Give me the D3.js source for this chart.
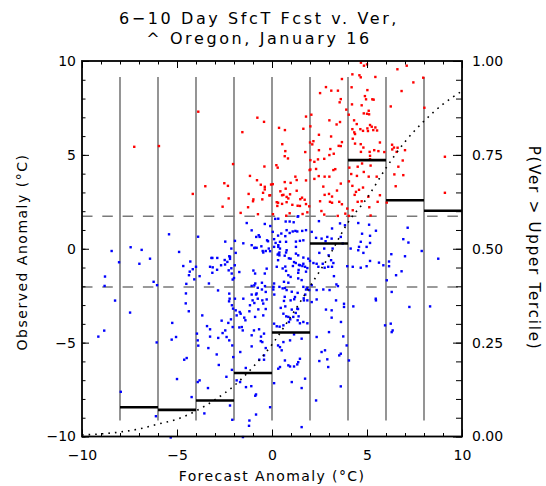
<!DOCTYPE html>
<html><head><meta charset="utf-8">
<script src="https://cdn.jsdelivr.net/npm/d3@7"></script>
<style>body{margin:0;background:#fff}svg{display:block;font-family:"DejaVu Sans",sans-serif}</style>
</head><body><svg id="c" width="546" height="486"></svg>
<script>
// [forecast anomaly, observed anomaly]
const points = [
[-7.25,5.43],[-8.44,-0.12],[-7.44,0.08],[-8.05,-0.72],[-8.79,-1.48],[-8.26,-2.76],[-7.47,-3.4],[-8.83,-4.36],[-9.14,-4.68],[-7.96,-7.62],[-6.98,-0.8],
[-6.86,-0.06],[-6.42,-0.53],[-5.42,0.77],[-4.89,-0.17],[-3.89,0.64],[-3.19,-0.49],[-3.14,-0.49],[-2.88,-0.49],[-2.46,0.38],[-2.49,-0.6],[-2.21,-0.43],[-2.14,0.01],[-1.95,0.42],[-1.51,0.29],[-1.33,1.37],[-1.07,0.98],[-0.9,0.05],[-0.81,0.05],[-0.7,0.72],[-0.65,0.63],[-0.83,0.63],[-0.56,0.13],[-0.49,-0.12],[-0.46,-0.2],[-0.33,-0.12],[-0.38,1.32],[-0.26,0.45],[-0.21,0.4],[-0.09,1.21],[0.04,0.9],[0.11,0.51],[0.17,1.59],[0.33,0.1],[0.3,-0.31],[0.39,-0.2],
[-5.95,5.47],[-3.88,7.3],[-4.17,2.92],[-3.51,3.33],[-2.51,3.49],[-2.32,3.35],[-2.05,4.51],[-2.28,2.68],[-2.6,2.24],[-1.56,6.21],[-0.77,6.98],[-0.42,6.76],[0.37,6.44],[-1.16,3.88],[-0.79,3.65],[-0.4,4.38],[-0.59,3.41],[-0.38,3.3],[-0.38,3.16],[-0.05,3.42],[-0.47,2.98],[-0.14,2.84],[-1.23,2.92],[-1.0,2.53],[-1.26,2.21],[-1.65,1.91],[-0.74,1.84],[0.23,4.45],[0.3,4.32],[0.32,2.45],[0.05,1.84],[-0.98,2.63],[-0.51,2.63],
[4.68,9.91],[4.84,9.75],[5.0,9.82],[4.23,9.29],[4.6,9.24],[4.67,9.13],[5.44,9.15],[6.6,9.56],[7.09,9.75],[7.96,9.11],[7.44,8.86],[6.82,8.4],[3.68,9.04],[2.84,8.61],[3.12,8.42],[3.47,8.42],[2.53,8.29],[3.62,7.97],[3.56,7.8],[4.19,8.6],[5.02,8.45],[4.89,8.13],[4.95,7.96],[5.28,7.96],[5.35,7.94],[4.72,7.64],[4.21,7.69],[3.91,7.41],[5.09,7.35],[5.0,7.19],[4.83,7.21],[5.11,7.16],[4.04,7.14],[6.25,7.58],[8.02,7.51],[2.07,7.14],[2.02,6.52],[1.79,7.04],[1.65,6.39],[0.68,6.32],
[3.02,6.84],[3.58,6.75],[3.4,6.62],[4.32,6.84],[4.46,6.64],[4.23,6.37],[4.33,6.2],[4.65,6.37],[4.79,6.28],[5.02,6.41],[5.05,6.27],[5.25,6.5],[5.33,6.32],[5.44,6.46],[5.53,6.3],[5.16,6.59],[4.37,6.11],[4.25,5.86],[3.11,5.98],[2.47,6.07],[2.18,5.73],[2.0,5.66],[2.12,5.56],[3.68,5.68],[3.62,5.47],[3.51,5.48],[0.54,5.57],[0.7,5.2],[0.67,4.93],[0.84,4.81],[2.47,5.25],[3.07,5.31],[3.25,5.06],[3.02,4.99],[2.75,4.79],[2.42,4.76],[2.23,4.63],[1.75,5.15],[2.02,4.72],[2.02,4.22],
[4.67,5.57],[4.37,5.6],[4.81,5.39],[4.68,5.16],[5.14,5.16],[5.16,4.77],[5.16,4.95],[5.68,5.66],[5.6,5.2],[5.38,5.25],[5.91,5.15],[6.32,5.54],[6.42,5.39],[6.61,5.38],[6.56,5.16],[6.33,5.29],[7.0,5.25],[6.88,4.7],[6.65,4.37],[6.91,3.92],[6.44,3.96],[6.51,3.33],[9.1,4.9],[9.1,2.98],[6.04,2.46],
[1.3,3.66],[1.23,3.84],[0.67,3.55],[0.72,3.2],[0.44,3.06],[0.53,2.85],[0.6,2.87],[0.86,2.68],[0.25,2.48],[0.28,2.28],[0.53,2.39],[0.77,2.48],[1.07,2.34],[1.58,2.72],[1.49,2.64],[1.72,2.61],[1.47,2.28],[1.96,2.26],[0.93,1.89],[1.35,1.71],[1.61,1.85],[1.79,3.64],[2.23,3.72],[2.32,4.25],[1.98,4.19],[2.46,3.87],[2.77,3.84],[3.02,3.84],[2.7,3.31],[2.77,2.87],[3.0,2.92],[2.53,2.53],[2.6,2.01],[2.75,1.82],[3.23,4.19],[3.33,4.24],[3.16,2.78],[3.42,3.1],[3.62,3.47],[3.54,2.5],[3.68,2.37],[3.05,2.5],[3.16,2.45],[3.46,1.75],[3.86,1.87],[3.96,2.14],[4.23,3.35],[4.35,2.87],[4.42,3.03],[4.58,3.14],[4.79,3.26],[5.07,2.77],[4.51,2.5],[4.72,2.53],[5.56,2.5],[5.68,2.85],[4.05,3.59],[4.17,3.98],[4.47,3.88],[5.09,3.84],[5.51,3.84],[4.83,4.09],[4.51,4.37],[4.07,4.32],[4.74,4.54],[5.19,4.43],[4.25,2.05],[4.04,1.75],[5.19,1.77],[5.12,2.21],[0.04,3.44],[-0.1,2.85],
[0.98,3.51],[1.3,3.09],[0.95,2.9],[0.77,2.76],[0.75,1.76],[1.38,1.73],[1.86,1.94],[1.79,2.38],[1.35,2.29],
[0.72,1.45],[0.93,1.45],[1.14,1.41],[1.23,0.95],[0.77,0.99],[0.49,0.81],[0.32,0.7],[0.7,0.67],[0.93,0.84],[1.09,0.92],[1.33,0.92],[1.59,0.95],[1.79,0.99],[0.42,0.37],[0.19,0.31],[0.74,0.37],[1.26,0.38],[1.47,0.42],[1.65,0.45],[0.42,0.01],[1.26,-0.26],[0.67,-0.37],[0.35,-0.26],[1.65,-0.47],
[2.09,0.9],[2.32,0.58],[2.61,0.54],[2.82,0.4],[2.91,0.63],[3.14,0.54],[3.62,0.63],[2.47,1.47],[3.16,1.08],[3.58,1.35],[3.84,1.25],[2.75,0.01],[2.49,-0.22],[3.19,0.01],[3.72,0.28],[2.98,-0.35],
[4.54,1.37],[4.74,0.8],[5.16,0.69],[5.47,0.96],[5.11,1.28],[4.67,0.37],[4.54,-0.08],[4.81,-0.22],[5.16,0.31],[4.14,0.01],
[6.28,-0.29],[7.14,1.12],[6.91,0.51],[7.18,0.33],[7.88,-0.12],[8.75,-0.53],
[0.33,1.6],[-0.17,0.01],[-0.1,-0.13],[-0.93,0.04],
[-8.81,-1.98],[-6.23,-1.76],[-6.05,-1.94],[-6.07,-4.99],[-6.11,-8.92],[-5.25,-3.95],[-5.28,-4.84],[-5.05,-4.7],[-5.0,-6.94],[-5.33,-10.05],
[-4.67,-0.92],[-4.3,-0.68],[-4.17,-1.09],[-4.37,-1.41],[-4.33,-1.22],[-4.09,-1.63],[-4.0,-0.96],[-3.81,-1.46],[-4.51,-1.87],[-4.53,-2.38],[-4.54,-2.91],[-4.38,-3.33],[-4.62,-5.91],[-4.49,-5.82],[-4.23,-7.9],[-3.91,-7.1],[-3.81,-7.01],[-3.56,-8.77],[-3.67,-3.55],[-3.42,-4.12],[-3.26,-4.29],[-3.95,-4.52],[-3.91,-4.88],[-3.88,-5.16],[-3.26,-4.68],[-2.83,-4.75],[-3.35,-5.29],[-3.37,-7.42],[-2.91,-5.63],[-2.8,-6.19],[-2.4,-6.82],
[-3.26,-0.96],[-3.12,-0.99],[-2.89,-1.12],[-3.14,-1.28],[-3.32,-1.85],[-2.84,-2.22],
[-2.25,-0.4],[-2.21,-0.54],[-1.91,-0.22],
[-2.68,-0.88],[-2.47,-0.84],[-2.35,-0.7],[-2.14,-1.04],[-2.28,-1.15],[-2.12,-1.32],[-2.0,-1.56],
[-2.25,-2.39],[-2.23,-2.66],[-2.26,-2.8],[-2.11,-3.01],[-2.05,-3.19],[-1.91,-3.28],[-1.95,-2.66],[-1.51,-2.66],[-1.7,-3.37],[-1.86,-3.55],[-1.4,-3.81],[-1.46,-3.67],[-1.59,-4.17],
[-2.65,-3.83],[-2.3,-3.95],[-2.46,-4.35],[-2.6,-4.49],[-2.39,-4.7],[-2.25,-4.88],[-2.09,-5.15],[-2.16,-3.76],
[-2.04,-5.77],[-2.11,-6.45],[-2.09,-9.11],[-2.21,-8.35],
[-1.07,0.19],
[-0.98,-1.16],[-0.89,-1.32],[-0.38,-1.32],[-1.07,-1.98],[-0.88,-1.85],[-0.53,-1.81],[-0.37,-1.99],[-0.75,-2.08],[-0.53,-2.17],[-0.81,-2.38],[-0.28,-2.7],[-0.51,-2.75],[-0.75,-2.66],[-1.02,-2.75],[-0.46,-2.92],[-0.72,-3.23],[-0.33,-3.21],[-1.19,-3.33],[-0.89,-3.63],[-0.95,-4.35],[-0.68,-4.29],[-1.07,-4.61],[-0.58,-4.68],[-0.59,-4.92],[-0.51,-4.97],[-0.42,-5.68],[-0.67,-5.91],[-0.42,-5.91],[-1.07,-5.2],[-1.67,-5.5],[-1.38,-6.35],[-1.09,-7.32],[-1.37,-7.37],[-1.68,-7.1],[-1.86,-7.01],[-0.84,-7.76],[-0.88,-7.83],[-0.1,-8.44],[-0.84,-8.83],[-1.19,-9.15],[-1.21,-9.43],[-0.33,-5.29],[-1.53,-10.03],
[-1.96,-0.88],[-2.07,-1.64],[-1.72,-1.24],[-0.28,-1.06],[0.07,-2.17],[0.12,-2.44],[-0.33,-2.3],[-0.93,-1.95],[-0.84,-2.44],[-1.07,-2.44],[-1.16,-3.01],[-0.93,-2.89],[-0.46,-3.55],[-1.65,-3.46],[-2.07,-4.17],[-1.72,-4.19],[-1.54,-4.35],[-0.42,-4.52],
[0.11,0.1],[0.33,0.19],[0.39,-0.35],[0.77,-0.08],[1.26,0.1],[0.98,-0.53],[1.16,-0.71],[1.38,-0.35],[1.65,-0.8],[1.91,-0.53],
[0.25,-0.96],[0.56,-1.05],[0.74,-1.18],[0.86,-1.41],[0.98,-1.5],[1.38,-1.28],[1.47,-0.88],[1.74,-0.96],[1.38,-1.58],[1.56,-1.67],[2.0,-0.65],[2.18,-0.76],[2.35,-0.8],[2.44,-0.96],[2.67,-0.8],[2.77,-1.01],[2.96,-0.96],[3.16,-0.96],[3.23,-0.76],[3.11,-0.61],
[0.11,-1.85],[0.07,-2.03],[0.63,-1.76],[0.86,-1.81],[0.77,-2.2],[0.56,-2.11],[0.39,-2.03],[1.65,-2.03],[1.79,-2.17],[1.96,-2.2],[2.09,-1.94],[2.35,-2.2],[2.7,-2.17],[3.03,-2.2],[3.39,-1.9],[3.47,-1.99],[3.26,-1.46],
[0.63,-2.78],[0.98,-2.75],[1.21,-2.57],[1.68,-2.75],[1.33,-3.19],[1.04,-3.24],[0.6,-3.46],[0.86,-3.63],[1.12,-3.63],[1.35,-3.81],[1.65,-3.9],[2.09,-2.84],[2.35,-2.7],[2.84,-3.24],[3.14,-3.28],[3.37,-2.75],[3.14,-3.67],[3.63,-3.9],[3.79,-3.1],[3.96,-0.93],[4.28,-3.07],
[0.11,-3.99],[0.25,-4.13],[0.6,-4.08],[1.16,-4.56],[1.56,-4.79],[0.95,-4.88],[0.6,-4.97],[0.42,-5.24],[0.32,-5.15],[0.51,-5.41],[0.68,-5.95],[0.86,-6.21],[0.95,-6.27],[1.16,-6.27],[1.33,-6.16],[1.38,-6.04],[1.47,-5.86],[0.42,-6.3],[0.33,-6.39],[0.11,-7.16],[1.74,-6.92],[1.56,-7.42],[1.04,-7.1],[1.56,-9.5],[2.35,-4.7],[2.79,-5.41],[2.61,-5.5],[2.49,-5.98],[2.91,-5.89],[2.96,-6.3],[3.54,-5.68],[3.62,-5.59],[3.93,-5.15],[4.05,-5.95],[3.62,-7.33],[2.32,-8.08],[3.0,-4.44],[3.75,-4.67],
[4.58,0.1],[4.98,0.1],[4.67,-1.01],[4.98,-0.93],[5.16,-0.65],[5.63,-0.74],[5.86,-0.88],[6.16,-0.68],[6.16,-0.93],[6.04,-1.68],[6.3,-2.3],[5.95,-4.08],[6.25,-3.99],[6.3,-4.44],[6.35,-4.35],[5.46,-2.66],[5.47,-2.75],[6.53,-1.41],[6.82,-1.2],[7.0,-0.4],[7.23,-3.1],[8.32,-3.07],[4.25,-0.96],[3.79,-2.93],
[0.46,-3.15],[0.7,-3.07],[0.75,-3.6],[1.25,-3.42],[1.37,-3.21],[1.4,-3.6],[0.96,-3.76],[1.86,-2.08],[1.75,-2.44],[1.35,-2.35],[1.17,-2.69],[0.68,-2.09],[1.04,-2.29],[0.67,-2.56],[0.4,-4.15],[0.89,-3.9],[1.47,-3.97],[1.86,-3.97],[1.67,-2.64],[1.86,-2.75],
[0.32,-0.61],[0.74,-0.2],[0.89,-0.51],[0.7,-0.95],[1.1,-0.92],[1.25,-0.76],[1.42,-0.86],[1.6,-0.92],[1.4,-1.13],[1.86,-1.03],[1.79,-1.22]
];
const binEdges = [-8,-6,-4,-2,0,2,4,6,8,10];
const binProb = [0.078,0.071,0.096,0.169,0.277,0.514,0.736,0.629,0.601];
const dividers = [-8,-6,-4,-2,0,2,4,6,8];
const dividerSpan = [-9.15,9.15];
const lowerTercile = -2.04;
const upperTercile = 1.73;
const curveX = [-10,-9,-8,-7,-6,-5,-4,-3,-2,-1,0,1,2,3,4,5,6,7,8,9,10];
const curveP = [0.004,0.007,0.012,0.020,0.033,0.046,0.068,0.098,0.135,0.185,0.245,0.32,0.40,0.48,0.57,0.635,0.715,0.785,0.84,0.885,0.92];
const xMajor = [-10,-5,0,5,10];
const yMajor = [-10,-5,0,5,10];
const pMajor = [0,0.25,0.5,0.75,1];
const pLabels = ["0.00","0.25","0.50","0.75","1.00"];
const titleLines = ["6\u221210 Day SfcT Fcst v. Ver,", "^ Oregon, January 16"];
const xTitle = "Forecast Anomaly (\u00b0C)";
const yTitle = "Observed Anomaly (\u00b0C)";
const pTitle = "P(Ver > Upper Tercile)";

const svg = d3.select("#c");
const L=82,R=462,T=61,B=436.5;
const x = d3.scaleLinear().domain([-10,10]).range([L,R]);
const y = d3.scaleLinear().domain([-10,10]).range([B,T]);
const p = d3.scaleLinear().domain([0,1]).range([B,T]);
const FONT = "DejaVu Sans";
const fmt = d => d<0 ? "\u2212"+Math.abs(d) : String(d);

// vertical bin dividers
svg.append("g").selectAll("line").data(dividers).join("line")
  .attr("x1",d=>x(d)).attr("x2",d=>x(d))
  .attr("y1",y(dividerSpan[1])).attr("y2",y(dividerSpan[0]))
  .attr("stroke","#7a7a7a").attr("stroke-width",1.6);

// tercile dashed lines
svg.append("g").selectAll("line").data([lowerTercile,upperTercile]).join("line")
  .attr("x1",x(-10)).attr("x2",x(10))
  .attr("y1",d=>y(d)).attr("y2",d=>y(d))
  .attr("stroke","#7a7a7a").attr("stroke-width",1.6).attr("stroke-dasharray","10.5,9.8");

// points
svg.append("g").selectAll("rect").data(points).join("rect")
  .attr("x",d=>x(d[0])-1.2).attr("y",d=>y(d[1])-1.2)
  .attr("width",2.4).attr("height",2.4)
  .attr("fill",d=>d[1]>upperTercile?"#ff0000":"#0000ff");

// bin probabilities
svg.append("g").selectAll("line").data(binProb).join("line")
  .attr("x1",(d,i)=>x(binEdges[i])).attr("x2",(d,i)=>x(binEdges[i+1]))
  .attr("y1",d=>p(d)).attr("y2",d=>p(d))
  .attr("stroke","#000").attr("stroke-width",2.6);

// dotted curve
svg.append("path").datum(curveX.map((v,i)=>[v,curveP[i]]))
  .attr("d",d3.line().x(d=>x(d[0])).y(d=>p(d[1])).curve(d3.curveMonotoneX))
  .attr("fill","none").attr("stroke","#000").attr("stroke-width",1.6)
  .attr("stroke-dasharray","1.6,5");

// axes
function styleAxis(g){
  g.select(".domain").remove();
  g.selectAll("line").attr("stroke","#000").attr("stroke-width",1);
  g.selectAll("text").attr("font-family",FONT).attr("font-size",14).attr("fill","#000");
}
const minorX = d3.range(-10,10.001,1);
const minorP = d3.range(0,1.0001,0.05);
svg.append("g").attr("transform",`translate(0,${B})`)
  .call(d3.axisBottom(x).tickValues(minorX).tickSize(-3.5).tickFormat("")).call(styleAxis);
svg.append("g").attr("transform",`translate(0,${B})`)
  .call(d3.axisBottom(x).tickValues(xMajor).tickSize(-7).tickPadding(14).tickFormat(fmt)).call(styleAxis);
svg.append("g").attr("transform",`translate(0,${T})`)
  .call(d3.axisTop(x).tickValues(minorX).tickSize(-3.5).tickFormat("")).call(styleAxis);
svg.append("g").attr("transform",`translate(0,${T})`)
  .call(d3.axisTop(x).tickValues(xMajor).tickSize(-7).tickFormat("")).call(styleAxis);
svg.append("g").attr("transform",`translate(${L},0)`)
  .call(d3.axisLeft(y).tickValues(minorX).tickSize(-3.5).tickFormat("")).call(styleAxis);
svg.append("g").attr("transform",`translate(${L},0)`)
  .call(d3.axisLeft(y).tickValues(yMajor).tickSize(-7).tickPadding(6).tickFormat(fmt)).call(styleAxis);
svg.append("g").attr("transform",`translate(${R},0)`)
  .call(d3.axisRight(p).tickValues(minorP).tickSize(-6).tickFormat("")).call(styleAxis);
svg.append("g").attr("transform",`translate(${R},0)`)
  .call(d3.axisRight(p).tickValues(pMajor).tickSize(-9).tickPadding(10).tickFormat((d,i)=>pLabels[i])).call(styleAxis);

// frame
svg.append("rect").attr("x",L).attr("y",T).attr("width",R-L).attr("height",B-T)
  .attr("fill","none").attr("stroke","#000").attr("stroke-width",1.8);

// titles
svg.append("g").selectAll("text").data(titleLines).join("text")
  .attr("x",259).attr("y",(d,i)=>24+i*19.5)
  .attr("text-anchor","middle").attr("font-family",FONT).attr("font-size",16)
  .attr("letter-spacing",2.6).text(d=>d);
svg.append("text").attr("x",(L+R)/2).attr("y",481).attr("text-anchor","middle")
  .attr("font-family",FONT).attr("font-size",14).attr("letter-spacing",1.4).text(xTitle);
svg.append("text").attr("transform",`translate(27,252) rotate(-90)`).attr("text-anchor","middle")
  .attr("font-family",FONT).attr("font-size",14).attr("letter-spacing",1.5).text(yTitle);
svg.append("text").attr("transform",`translate(529,248) rotate(90)`).attr("text-anchor","middle")
  .attr("font-family",FONT).attr("font-size",15).attr("letter-spacing",1.8).text(pTitle);
</script>
</body></html>
